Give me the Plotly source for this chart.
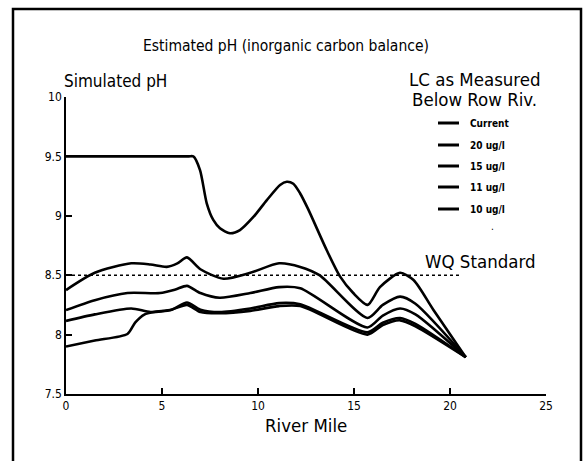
import plotly.graph_objects as go

# ---- data ----
x_current = [0, 5.5, 6.4, 6.63, 6.98, 7.33, 7.67, 8.02, 8.54, 9.06, 9.76, 10.45, 11.15, 11.5, 11.84,
             12.19, 12.6, 13.58, 14.27, 14.96, 15.71, 16.35, 17.4, 18.1, 19.13, 20.82]
y_current = [9.5, 9.5, 9.5, 9.5, 9.385, 9.105, 8.965, 8.895, 8.853, 8.88, 8.99, 9.13, 9.26, 9.287, 9.27,
             9.19, 9.06, 8.71, 8.49, 8.35, 8.25, 8.40, 8.52, 8.46, 8.21, 7.81]

x_20 = [0, 1.5, 3.4, 4.4, 5.25, 5.8, 6.3, 7.0, 8.2, 9.6, 11.1, 12.2, 13.2, 15.7, 16.5, 17.4, 18.2, 20.82]
y_20 = [8.375, 8.52, 8.60, 8.59, 8.57, 8.60, 8.65, 8.55, 8.47, 8.52, 8.60, 8.57, 8.50, 8.14, 8.25, 8.32, 8.26, 7.81]

x_15 = [0, 1.5, 3.2, 4.9, 5.7, 6.3, 7.0, 8.0, 9.6, 11.1, 12.2, 15.7, 16.5, 17.4, 18.2, 20.82]
y_15 = [8.207, 8.29, 8.35, 8.35, 8.38, 8.41, 8.35, 8.31, 8.35, 8.40, 8.39, 8.06, 8.16, 8.22, 8.17, 7.81]

x_11 = [0, 1.5, 3.4, 4.4, 5.5, 6.3, 7.0, 8.0, 9.6, 11.1, 12.2, 15.7, 16.5, 17.4, 18.2, 20.82]
y_11 = [8.115, 8.17, 8.22, 8.19, 8.21, 8.27, 8.21, 8.19, 8.22, 8.265, 8.255, 8.02, 8.10, 8.14, 8.09, 7.81]

x_10 = [0, 1.5, 3.2, 3.6, 4.1, 4.6, 5.5, 6.3, 7.0, 8.0, 9.6, 11.1, 12.2, 15.7, 16.5, 17.4, 18.2, 20.82]
y_10 = [7.90, 7.95, 8.005, 8.10, 8.17, 8.19, 8.21, 8.25, 8.19, 8.18, 8.20, 8.24, 8.24, 8.00, 8.08, 8.12, 8.07, 7.81]

series_names = ["Current", "20 ug/l", "15 ug/l", "11 ug/l", "10 ug/l"]
wq_standard = 8.5
wq_x = [0, 20.6]

x_ticks = [0, 5, 10, 15, 20, 25]
x_ticktext = ["0", "5", "10", "15", "20", "25"]
y_ticks = [7.5, 8, 8.5, 9, 9.5, 10]
y_ticktext = ["7.5", "8", "8.5", "9", "9.5", "10"]

# ---- layout geometry ----
W, H = 583, 461
L, R, T, B = 66, 37, 97, 67
PW, PH = W - L - R, H - T - B

def px(x):
    return (x - L) / PW

def py(y):
    return (H - B - y) / PH

FONT = "Liberation Sans Narrow, DejaVu Sans Condensed, Arial Narrow, sans-serif"

fig = go.Figure()

fig.add_trace(go.Scatter(x=wq_x, y=[wq_standard, wq_standard], mode="lines",
                         line=dict(color="black", width=1.5, dash="dot"),
                         showlegend=False, hoverinfo="skip"))

all_series = [(x_current, y_current), (x_20, y_20), (x_15, y_15), (x_11, y_11), (x_10, y_10)]
for (xs, ys), name in zip(all_series, series_names):
    fig.add_trace(go.Scatter(x=xs, y=ys, mode="lines", name=name,
                             line=dict(color="black", width=2.6, shape="spline", smoothing=0.7),
                             showlegend=False))

shapes = []
# outer frame
shapes.append(dict(type="rect", xref="paper", yref="paper",
                   x0=px(13), x1=px(581), y0=py(480), y1=py(9),
                   line=dict(color="black", width=2.5), fillcolor="rgba(0,0,0,0)"))

annotations = []
def label(text, x, y, size, anchor="center"):
    annotations.append(dict(text=text, xref="paper", yref="paper", x=px(x), y=py(y),
                            showarrow=False, xanchor=anchor, yanchor="middle",
                            font=dict(family=FONT, size=size, color="black")))

label("Estimated pH (inorganic carbon balance)", 286, 46, 15.5)
label("Simulated pH", 62, 81, 17, "left")
label("LC as Measured", 475, 79, 18.5)
label("Below Row Riv.", 474, 100, 18.5)
label("WQ Standard", 480, 261, 18.5)
label("River Mile", 306, 425, 18.5)

leg_y = [123, 145, 166, 187, 209]
for name, yy in zip(series_names, leg_y):
    shapes.append(dict(type="line", xref="paper", yref="paper",
                       x0=px(438), x1=px(459), y0=py(yy), y1=py(yy),
                       line=dict(color="black", width=3)))
    annotations.append(dict(text="<b>" + name + "</b>", xref="paper", yref="paper",
                            x=px(468), y=py(yy), showarrow=False, xanchor="left", yanchor="middle",
                            font=dict(family=FONT, size=10, color="black")))
label(".", 492, 226, 10)

fig.update_layout(
    width=W, height=H,
    margin=dict(l=L, r=R, t=T, b=B),
    paper_bgcolor="white", plot_bgcolor="white",
    showlegend=False,
    shapes=shapes, annotations=annotations,
    font=dict(family=FONT, color="black"),
    xaxis=dict(range=[0, 25], tickvals=x_ticks, ticktext=x_ticktext,
               showgrid=False, zeroline=False, showline=True, linecolor="black", linewidth=1.5,
               ticks="inside", ticklen=6, tickwidth=1.5, tickcolor="black",
               tickfont=dict(family=FONT, size=12, color="black")),
    yaxis=dict(range=[7.5, 10], tickvals=y_ticks, ticktext=y_ticktext,
               showgrid=False, zeroline=False, showline=True, linecolor="black", linewidth=1.5,
               ticks="inside", ticklen=6, tickwidth=1.5, tickcolor="black",
               tickfont=dict(family=FONT, size=12, color="black")),
)

fig.write_html("out.html")
